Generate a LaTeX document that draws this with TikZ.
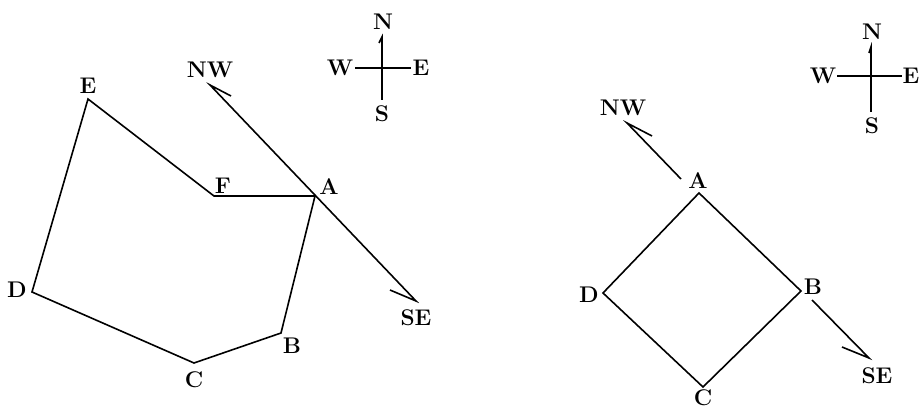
\documentclass[tikz,border=0pt]{standalone}
\begin{document}
\begin{tikzpicture}[x=0.75pt,y=-0.75pt,
  edge/.style={line width=1.2pt, line join=miter},
  lab/.style={font=\fontsize{17}{18}\selectfont\bfseries, inner sep=0pt}]
\useasboundingbox (0,0) rectangle (922,410);
% ---------- left figure ----------
\coordinate (LA) at (315,196);
\coordinate (LB) at (281,333);
\coordinate (LC) at (194,363);
\coordinate (LD) at (32,292);
\coordinate (LE) at (88,99);
\coordinate (LF) at (214,196);
\coordinate (LNW) at (210,85);
\coordinate (LNWb) at (231,96);
\coordinate (LSE) at (416,301);
\coordinate (LSEb) at (390,290);
\draw[edge] (LA) -- (LB) -- (LC) -- (LD) -- (LE) -- (LF) -- (LA);
\draw[edge] (LNWb) -- (LNW) -- (LSE) -- (LSEb);
\node[lab] (lA) at (329,187) {A};
\node[lab] (lB) at (292,346) {B};
\node[lab] (lC) at (194,380) {C};
\node[lab] (lD) at (17,290) {D};
\node[lab] (lE) at (88,86) {E};
\node[lab] (lF) at (223,186) {F};
\node[lab] (lNW) at (210,70) {NW};
\node[lab] (lSE) at (416,318) {SE};
% left compass
\coordinate (LcN) at (382,37);
\coordinate (LcNb) at (379,43);
\coordinate (LcS) at (382,100);
\coordinate (LcW) at (355,68);
\coordinate (LcE) at (411,68);
\draw[edge] (LcNb) -- (LcN) -- (LcS);
\draw[edge] (LcW) -- (LcE);
\node[lab] (lcN) at (383,22) {N};
\node[lab] (lcS) at (382,114) {S};
\node[lab] (lcW) at (340,68) {W};
\node[lab] (lcE) at (421,68) {E};
% ---------- right figure ----------
\coordinate (RA) at (699,193);
\coordinate (RB) at (801,291);
\coordinate (RC) at (703,387);
\coordinate (RD) at (603,293);
\coordinate (RNWs) at (681,179);
\coordinate (RNW) at (627,123);
\coordinate (RNWb) at (652,136);
\coordinate (RSEs) at (812,300);
\coordinate (RSE) at (869,358);
\coordinate (RSEb) at (842,347);
\draw[edge] (RA) -- (RB) -- (RC) -- (RD) -- cycle;
\draw[edge] (RNWs) -- (RNW) -- (RNWb);
\draw[edge] (RSEs) -- (RSE) -- (RSEb);
\node[lab] (rA) at (698,181) {A};
\node[lab] (rB) at (813,287) {B};
\node[lab] (rC) at (703,398) {C};
\node[lab] (rD) at (589,295) {D};
\node[lab] (rNW) at (623,108) {NW};
\node[lab] (rSE) at (877,376) {SE};
% right compass
\coordinate (RcN) at (871,47);
\coordinate (RcNb) at (869,53);
\coordinate (RcS) at (871,112);
\coordinate (RcW) at (837,76);
\coordinate (RcE) at (902,76);
\draw[edge] (RcNb) -- (RcN) -- (RcS);
\draw[edge] (RcW) -- (RcE);
\node[lab] (rcN) at (872,32) {N};
\node[lab] (rcS) at (872,126) {S};
\node[lab] (rcW) at (823,76) {W};
\node[lab] (rcE) at (911,76) {E};
\end{tikzpicture}
\end{document}
